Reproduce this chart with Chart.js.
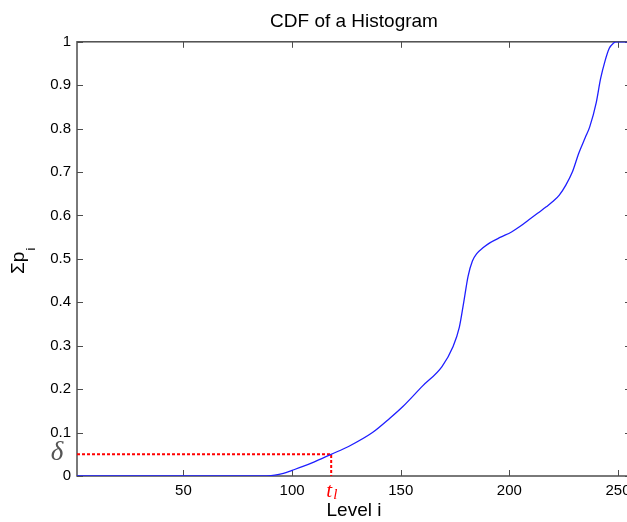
<!DOCTYPE html>
<html>
<head>
<meta charset="utf-8">
<title>CDF of a Histogram</title>
<script src="https://cdn.jsdelivr.net/npm/chart.js@4"></script>
<style>
    html, body { margin: 0; padding: 0; background: #fff; overflow: hidden; }
    #lienzo { position: absolute; left: 0; top: 0; }
</style>
</head>
<body>
<canvas id="lienzo" width="640" height="522"></canvas>
<script>
// Datos
const niveles = [1, 84, 92, 96, 100, 105, 110, 118, 126, 137, 145, 151, 160, 169, 174, 177, 179, 181, 183, 185, 188, 191, 196, 201, 205, 209, 213, 217, 220, 223, 226, 229, 232, 235, 237, 240, 242, 244, 246, 248, 249, 256];
const acumulado = [0, 0, 0.002, 0.006, 0.013, 0.022, 0.032, 0.05, 0.068, 0.1, 0.133, 0.16, 0.207, 0.252, 0.297, 0.343, 0.4, 0.46, 0.495, 0.512, 0.526, 0.537, 0.55, 0.562, 0.575, 0.59, 0.605, 0.62, 0.632, 0.647, 0.67, 0.7, 0.744, 0.78, 0.804, 0.86, 0.915, 0.955, 0.985, 0.997, 1, 1];

const ticksX = [50, 100, 150, 200, 250];
const ticksY = [0, 0.1, 0.2, 0.3, 0.4, 0.5, 0.6, 0.7, 0.8, 0.9, 1];

// Umbral marcado (t_l, delta)
const nivelUmbral = 118;
const delta = 0.05;

const colorEje = "#4d4d4d";
const fuenteSans = "'Liberation Sans', Arial, sans-serif";
const fuenteSerif = "'Liberation Serif', 'DejaVu Serif', serif";

// Marcas hacia dentro y caja del area (estilo MATLAB)
const marcasInternas = {

    id: "marcasInternas",

    beforeDatasetsDraw(chart) {

        const { ctx, chartArea: a, scales: { x, y } } = chart;

        ctx.save();
        ctx.strokeStyle = colorEje;
        ctx.lineWidth = 1.5;
        ctx.strokeRect(a.left, a.top, a.right - a.left, a.bottom - a.top);

        ctx.lineWidth = 1;
        ctx.beginPath();

        x.ticks.forEach(t => {
            const px = Math.round(x.getPixelForValue(t.value)) + 0.5;
            ctx.moveTo(px, a.bottom);
            ctx.lineTo(px, a.bottom - 6);
            ctx.moveTo(px, a.top);
            ctx.lineTo(px, a.top + 6);
        });

        y.ticks.forEach(t => {
            const py = Math.round(y.getPixelForValue(t.value)) + 0.5;
            ctx.moveTo(a.left, py);
            ctx.lineTo(a.left + 6, py);
            ctx.moveTo(a.right, py);
            ctx.lineTo(a.right - 6, py);
        });

        ctx.stroke();
        ctx.restore();

    }

};

// Etiquetas: titulo del eje y con subindice, delta y t_l
const etiquetas = {

    id: "etiquetas",

    afterDatasetsDraw(chart) {

        const { ctx, chartArea: a, scales: { x, y } } = chart;

        const py = y.getPixelForValue(delta);
        const px = x.getPixelForValue(nivelUmbral);

        ctx.save();
        ctx.textBaseline = "alphabetic";

        // Σp_i girado
        ctx.save();
        ctx.translate(24, (a.top + a.bottom) / 2 + 15);
        ctx.rotate(-Math.PI / 2);
        ctx.fillStyle = "#000";
        ctx.textAlign = "left";
        ctx.font = "19px " + fuenteSans;
        ctx.fillText("Σp", 0, 0);
        const ancho = ctx.measureText("Σp").width;
        ctx.font = "13px " + fuenteSans;
        ctx.fillText("i", ancho + 1, 11);
        ctx.restore();

        ctx.fillStyle = "#555";
        ctx.font = "italic 27px " + fuenteSerif;
        ctx.textAlign = "center";
        ctx.fillText("δ", a.left - 20, py + 6);

        ctx.fillStyle = "#ff0000";
        ctx.font = "italic 21px " + fuenteSerif;
        ctx.textAlign = "right";
        ctx.fillText("t", px + 1, a.bottom + 21);
        ctx.font = "italic 15px " + fuenteSerif;
        ctx.textAlign = "left";
        ctx.fillText("l", px + 2, a.bottom + 23);

        ctx.restore();

    }

};

Chart.defaults.font.family = fuenteSans;
Chart.defaults.font.size = 15;
Chart.defaults.color = "#000";

const ctx = document.getElementById("lienzo");

new Chart(ctx, {

    type: "line",

    data: {

        datasets: [

            {
                label: "CDF",
                data: niveles.map((n, i) => ({ x: n, y: acumulado[i] })),
                borderColor: "#1f1fff",
                borderWidth: 1.3,
                pointRadius: 0,
                fill: false,
                cubicInterpolationMode: "monotone"
            },

            {
                label: "umbral",
                data: [
                    { x: niveles[0], y: delta },
                    { x: nivelUmbral, y: delta },
                    { x: nivelUmbral, y: 0 }
                ],
                borderColor: "#ff0000",
                borderWidth: 2,
                borderDash: [3, 2],
                pointRadius: 0,
                fill: false,
                tension: 0
            }

        ]

    },

    options: {

        responsive: false,
        animation: false,

        layout: {
            padding: { left: 0, top: 0, right: 9, bottom: 0 }
        },

        plugins: {

            legend: { display: false },
            tooltip: { enabled: false },

            title: {
                display: true,
                text: "CDF of a Histogram",
                fullSize: false,
                font: { size: 19, weight: "normal" },
                color: "#000",
                padding: { top: 10, bottom: 9 }
            }

        },

        scales: {

            x: {
                type: "linear",
                min: 1,
                max: 256,
                afterBuildTicks: s => { s.ticks = ticksX.map(v => ({ value: v })); },
                afterFit: s => { s.height = 46; },
                grid: { display: false, drawTicks: false },
                border: { display: false },
                ticks: { padding: 6, maxRotation: 0, autoSkip: false },
                title: {
                    display: true,
                    text: "Level i",
                    font: { size: 19 },
                    padding: { top: 0, bottom: 0 }
                }
            },

            y: {
                type: "linear",
                min: 0,
                max: 1,
                afterBuildTicks: s => { s.ticks = ticksY.map(v => ({ value: v })); },
                afterFit: s => { s.width = 77; },
                grid: { display: false, drawTicks: false },
                border: { display: false },
                ticks: { padding: 6, callback: v => String(v) }
            }

        }

    },

    plugins: [marcasInternas, etiquetas]

});
</script>
</body>
</html>
